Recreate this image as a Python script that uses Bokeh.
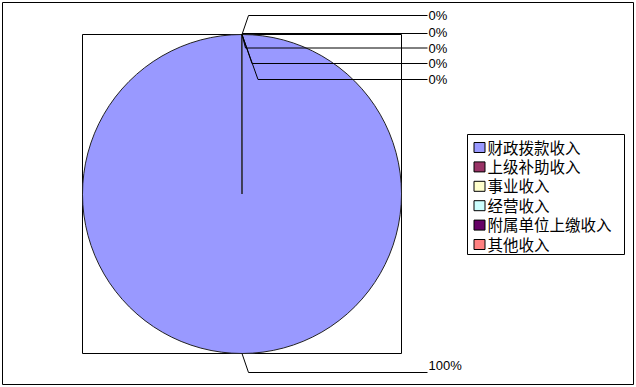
import math

from bokeh.embed import file_html
from bokeh.models import Range1d
from bokeh.plotting import figure
from bokeh.resources import INLINE
from bokeh.core.properties import value

# Income sources and their amounts
categories = ["财政拨款收入", "上级补助收入", "事业收入", "经营收入", "附属单位上缴收入", "其他收入"]
amounts = [100, 0, 0, 0, 0, 0]
colors = ["#9999FF", "#993366", "#FFFFCC", "#CCFFFF", "#660066", "#FF8080"]

W, H = 636, 387


def Y(y_px):
    """Convert a top-down pixel row into the upward data y coordinate."""
    return H - y_px


p = figure(width=W, height=H, x_range=Range1d(0, W), y_range=Range1d(0, H),
           output_backend="svg", toolbar_location=None, min_border=0,
           background_fill_color="white", border_fill_color="white")
p.axis.visible = False
p.grid.visible = False
p.outline_line_color = None

# Chart frame and plot-area frame
p.quad(left=[2], right=[633], bottom=[Y(384)], top=[Y(2)],
       fill_color=None, line_color="black", line_width=1)
p.quad(left=[82], right=[401], bottom=[Y(353)], top=[Y(34)],
       fill_color=None, line_color="black", line_width=1)

# Pie: starts at 12 o'clock, runs clockwise
cx, cy, r = 241.5, Y(193.5), 159.5
total = sum(amounts)
fracs = [a / total for a in amounts]
starts, ends, mids = [], [], []
acc = 0.0
for f in fracs:
    s = math.pi / 2 - acc * 2 * math.pi
    e = s - f * 2 * math.pi
    starts.append(s)
    ends.append(e)
    mids.append((s + e) / 2)
    acc += f

# Only slices with a non-zero share get a wedge; a sweep of a whole turn is
# shortened by a hair so the renderer does not collapse it to nothing.
shown = [i for i, f in enumerate(fracs) if f > 0]
full_turn = 2 * math.pi - 2e-3
p.wedge(x=[cx] * len(shown), y=[cy] * len(shown), radius=r,
        start_angle=[starts[i] for i in shown],
        end_angle=[starts[i] - min(starts[i] - ends[i], full_turn) for i in shown],
        direction="clock", fill_color=[colors[i] for i in shown],
        line_color="#222222", line_width=1)

# Percentage labels with leader lines (label row and elbow point per slice)
label_rows = [15, 33, 47.5, 63, 79]
elbow_x = [248, 242, 245, 251.5, 257.5]
label_x = 427
small_idx = [i for i in range(len(amounts)) if i != 0]
pcts = [round(100 * f) for f in fracs]

line_xs, line_ys, tx, ty, tt = [], [], [], [], []
for k, i in enumerate(small_idx):
    ax = cx + r * math.cos(mids[i])
    ay = cy + r * math.sin(mids[i])
    row = label_rows[k]
    line_xs.append([ax, elbow_x[k], label_x])
    line_ys.append([ay, Y(row), Y(row)])
    tx.append(label_x + 1)
    ty.append(Y(row - 1 if k == 1 else row))
    tt.append(f"{pcts[i]}%")

# Largest slice label below the pie
ax0 = cx + r * math.cos(mids[0])
ay0 = cy + r * math.sin(mids[0])
line_xs.append([ax0, 248, label_x])
line_ys.append([ay0, Y(372), Y(372)])
tx.append(label_x + 1)
ty.append(Y(365))
tt.append(f"{pcts[0]}%")

p.multi_line(xs=line_xs, ys=line_ys, line_color="black", line_width=1)
p.text(x=tx, y=ty, text=tt, text_font=value("Liberation Sans"),
       text_font_size="13px", text_baseline="middle", text_align="left",
       text_color="black")

# Legend box
p.quad(left=[467], right=[624], bottom=[Y(254)], top=[Y(134)],
       fill_color="white", line_color="black", line_width=1)
row_y = [146 + 19.4 * k for k in range(len(categories))]
p.rect(x=[479] * len(categories), y=[Y(v + 1) for v in row_y], width=11, height=10,
       fill_color=colors, line_color="black", line_width=1)
p.text(x=[487] * len(categories), y=[Y(v) for v in row_y], text=categories,
       text_font=value("Noto Sans CJK SC"), text_font_size="15.5px",
       text_baseline="middle", text_align="left", text_color="black")

open("out.html", "w").write(file_html(p, INLINE))
